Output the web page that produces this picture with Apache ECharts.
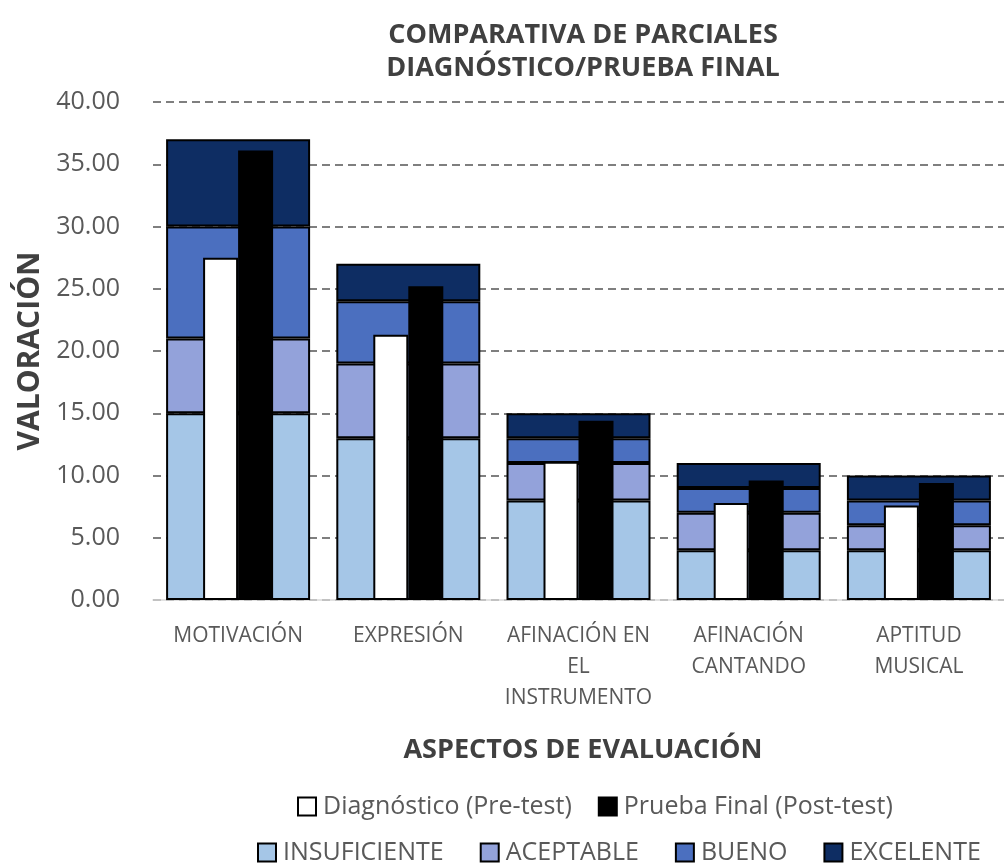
<!DOCTYPE html>
<html>
<head>
<meta charset="utf-8">
<script src="https://cdn.jsdelivr.net/npm/echarts@6/dist/echarts.min.js"></script>
<style>
  html, body { margin: 0; padding: 0; background: #fff; }
  #chart { width: 1004px; height: 863px; }
</style>
</head>
<body>
<div id="chart"></div>
<script>
// categorias y valores
const categories = ['MOTIVACIÓN', 'EXPRESIÓN', 'AFINACIÓN EN\nEL\nINSTRUMENTO', 'AFINACIÓN\nCANTANDO', 'APTITUD\nMUSICAL']
const insuficiente = [15, 13, 8, 4, 4]
const aceptable = [6, 6, 3, 3, 2]
const bueno = [9, 5, 2, 2, 2]
const excelente = [7, 3, 2, 2, 2]
const preTest = [27.5, 21.3, 11.1, 7.8, 7.6]
const postTest = [36.1, 25.2, 14.4, 9.6, 9.4]
const yTicks = { min: 0, max: 40, interval: 5 }

const font = '"Open Sans", "Noto Sans", sans-serif'
const textColor = '#595959'

function band (name, data, color) {
  return {
    name: name,
    type: 'bar',
    stack: 'niveles',
    xAxisIndex: 0,
    barWidth: 144,
    data: data,
    itemStyle: { color: color, borderColor: '#000', borderWidth: 2 }
  }
}

const chart = echarts.init(document.getElementById('chart'))
chart.setOption({
  animation: false,
  textStyle: { fontFamily: font },
  title: [{
    text: 'COMPARATIVA DE PARCIALES\nDIAGNÓSTICO/PRUEBA FINAL',
    left: 578,
    top: 14,
    textAlign: 'center',
    textStyle: { fontFamily: font, fontSize: 27, fontWeight: 'bold', color: '#404040', lineHeight: 33 }
  }, {
    text: 'ASPECTOS DE EVALUACIÓN',
    left: 578,
    top: 732,
    textAlign: 'center',
    textStyle: { fontFamily: font, fontSize: 27, fontWeight: 'bold', color: '#404040' }
  }],
  legend: [{
    data: ['Diagnóstico (Pre-test)', 'Prueba Final (Post-test)'],
    left: 292,
    top: 789,
    icon: 'rect',
    itemWidth: 18,
    itemHeight: 18,
    itemGap: 26,
    textStyle: { fontFamily: font, fontSize: 25, color: textColor, padding: [0, 0, 0, 2] }
  }, {
    data: ['INSUFICIENTE', 'ACEPTABLE', 'BUENO', 'EXCELENTE'],
    left: 252,
    top: 835,
    icon: 'rect',
    itemWidth: 18,
    itemHeight: 18,
    itemGap: 36,
    textStyle: { fontFamily: font, fontSize: 25, color: textColor, padding: [0, 0, 0, 2] }
  }],
  grid: { left: 153, right: -8, top: 102, bottom: 263 },
  xAxis: [{
    type: 'category',
    data: categories,
    axisLine: { lineStyle: { color: '#d9d9d9', width: 1.5 } },
    axisTick: { show: false },
    axisLabel: { color: textColor, fontSize: 21, lineHeight: 31, margin: 21, interval: 0 }
  }, {
    type: 'category',
    data: categories,
    show: false
  }],
  yAxis: {
    type: 'value',
    min: yTicks.min,
    max: yTicks.max,
    interval: yTicks.interval,
    name: 'VALORACIÓN',
    nameLocation: 'middle',
    nameRotate: 90,
    nameGap: 105,
    nameTextStyle: { fontFamily: font, fontSize: 30, fontWeight: 'bold', color: '#404040' },
    axisLine: { show: false },
    axisTick: { show: false },
    axisLabel: {
      color: textColor,
      fontSize: 25,
      margin: 33,
      formatter: function (v) { return v.toFixed(2) }
    },
    splitLine: { lineStyle: { color: '#7f7f7f', type: [8, 5], width: 2 } }
  },
  series: [
    band('INSUFICIENTE', insuficiente, '#a5c6e7'),
    band('ACEPTABLE', aceptable, '#93a2da'),
    band('BUENO', bueno, '#4b6fbf'),
    band('EXCELENTE', excelente, '#0e2d63'),
    {
      name: 'Diagnóstico (Pre-test)',
      type: 'bar',
      xAxisIndex: 1,
      barWidth: 35,
      barGap: '0%',
      data: preTest,
      itemStyle: { color: '#fff', borderColor: '#000', borderWidth: 2 }
    },
    {
      name: 'Prueba Final (Post-test)',
      type: 'bar',
      xAxisIndex: 1,
      barWidth: 35,
      barGap: '0%',
      data: postTest,
      itemStyle: { color: '#000', borderColor: '#000', borderWidth: 2 }
    }
  ]
})
</script>
</body>
</html>
